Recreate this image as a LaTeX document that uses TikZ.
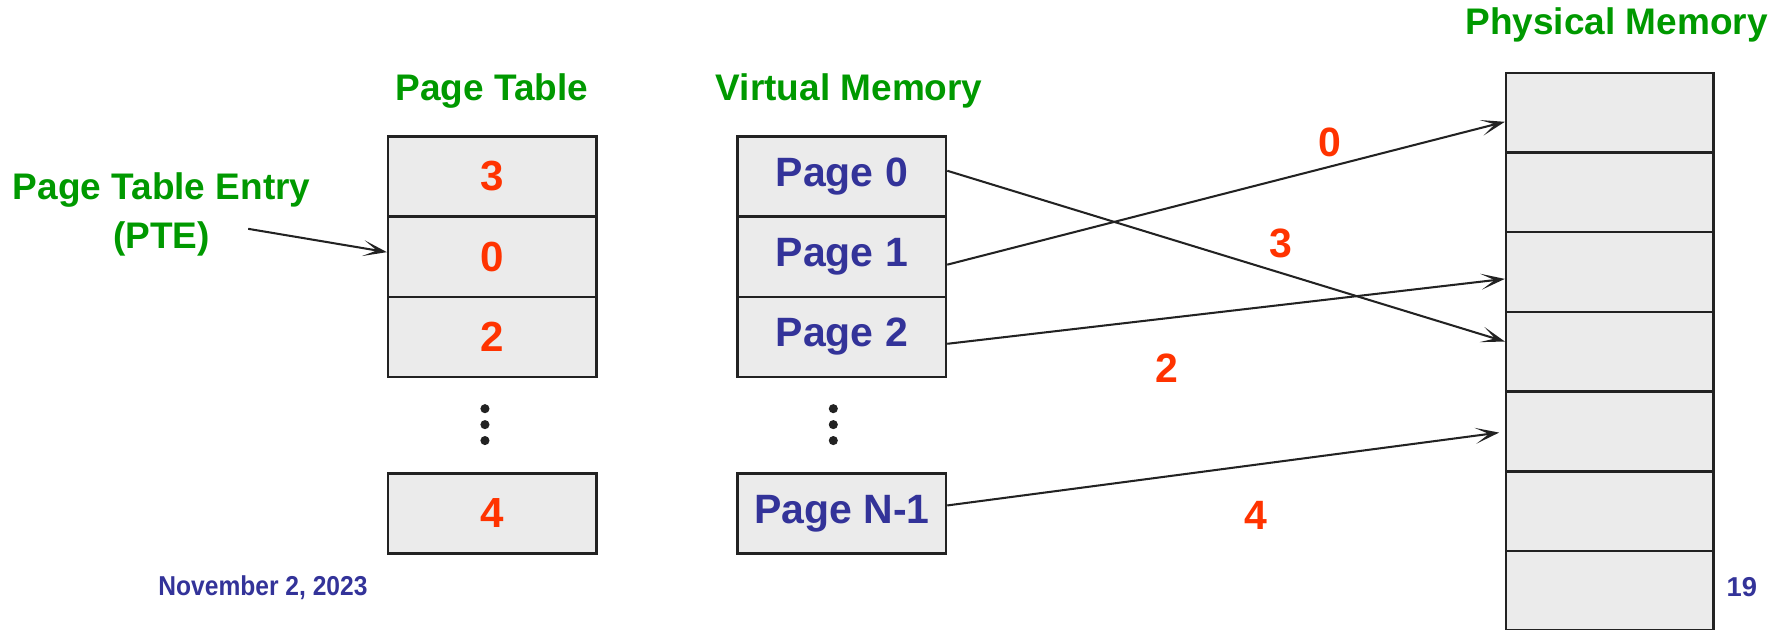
\documentclass[tikz,border=0pt]{standalone}
\usepackage{fontspec}
\setmainfont{Liberation Sans}
\usetikzlibrary{arrows.meta,calc}
\definecolor{titlegreen}{RGB}{0,153,0}
\definecolor{numred}{RGB}{255,51,0}
\definecolor{pageblue}{RGB}{51,51,153}
\definecolor{cellfill}{RGB}{235,235,235}
\definecolor{ink}{RGB}{34,34,34}

\begin{document}
\begin{tikzpicture}[x=1pt,y=-1pt,
  cell/.style={draw=ink, fill=cellfill, line width=2.2pt,
    minimum width=183pt, minimum height=70.5pt, inner sep=0pt},
  ptcell/.style={cell, text=numred, font=\bfseries\fontsize{37pt}{40pt}\selectfont},
  vmcell/.style={cell, text=pageblue, font=\bfseries\fontsize{36pt}{40pt}\selectfont},
  pmcell/.style={cell, minimum width=182pt, minimum height=70pt},
  heading/.style={text=titlegreen, font=\bfseries\fontsize{32.5pt}{38pt}\selectfont, inner sep=0pt},
  frameno/.style={text=numred, font=\bfseries\fontsize{36pt}{38pt}\selectfont, inner sep=0pt},
  footer/.style={text=pageblue, font=\bfseries\fontsize{24pt}{26pt}\selectfont, inner sep=0pt},
  dot/.style={fill=ink, circle, inner sep=0pt, minimum size=8pt},
  link/.style={draw=ink, line width=1.8pt, -{Stealth[length=21pt,width=14pt,inset=12pt]}}
]
\useasboundingbox (0,0) rectangle (1568,553);
\clip (0,0) rectangle (1568,553);

% headings
\node[heading] (htable) at (432,80) {Page Table};
\node[heading] (hvirt) at (746,80) {Virtual Memory};
\node[heading] (hphys) at (1420,22) {Physical Memory};
\node[heading, align=center, font=\bfseries\fontsize{32.5pt}{43pt}\selectfont] (pte) at (142,188) {Page Table Entry\\(PTE)};

% page table
\node[ptcell] (t0) at (432.5,155) {3};
\node[ptcell] (t1) at (432.5,225.5) {0};
\node[ptcell] (t2) at (432.5,296) {2};
\node[ptcell] (tn) at (432.5,451) {4};
\node[dot] (td1) at (426,359) {};
\node[dot] (td2) at (426,373) {};
\node[dot] (td3) at (426,387) {};

% virtual memory
\node[vmcell] (v0) at (739.5,155) {Page 0};
\node[vmcell] (v1) at (739.5,225.5) {Page 1};
\node[vmcell] (v2) at (739.5,296) {Page 2};
\node[vmcell] (vn) at (739.5,451) {Page N-1};
\node[dot] (vd1) at (732,359) {};
\node[dot] (vd2) at (732,373) {};
\node[dot] (vd3) at (732,387) {};

% physical memory frames
\foreach \i in {0,...,6}{
  \node[pmcell] (p\i) at (1414,99+70*\i) {};
}

% page table entry pointer
\coordinate (ptetail) at (218,201);
\draw[link] (ptetail) -- ($(t1.west)+(0,-4)$);

% page to frame mappings
\draw[link] ($(v0.east)+(0,-5)$) -- ($(p3.west)+(0,-9)$);
\draw[link] ($(v1.east)+(0,7)$) -- ($(p0.west)+(0,8)$);
\draw[link] ($(v2.east)+(0,6)$) -- ($(p2.west)+(0,6)$);
\draw[link] ($(vn.east)+(0,-7)$) -- ($(p4.west)+(-5,1)$);

% frame numbers
\node[frameno] (f0) at (1168,125) {0};
\node[frameno] (f3) at (1125,214) {3};
\node[frameno] (f2) at (1025,323) {2};
\node[frameno] (f4) at (1103,453) {4};

% footer
\node[footer, xscale=0.9] (date) at (231,516) {November 2, 2023};
\node[footer] (slide) at (1530,516) {19};
\end{tikzpicture}
\end{document}
